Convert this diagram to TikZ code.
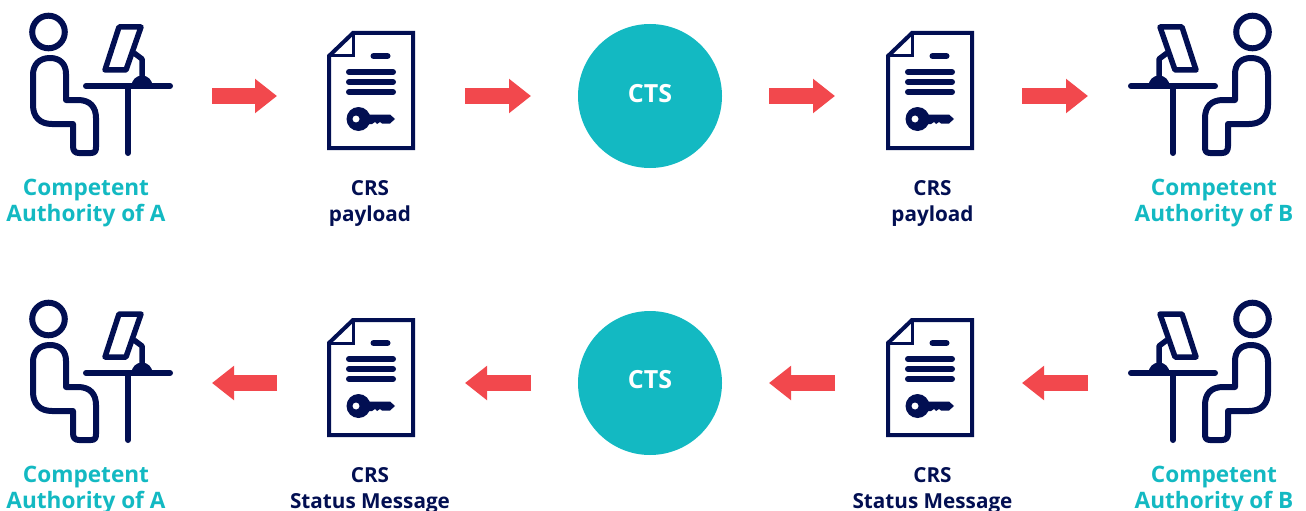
\documentclass[tikz,border=0pt]{standalone}
\usepackage{fontspec}
\setmainfont{Open Sans}
\usetikzlibrary{arrows.meta}
\definecolor{navy}{HTML}{020F52}
\definecolor{teal2}{HTML}{13B9C2}
\definecolor{red2}{HTML}{F2484D}
\tikzset{
  x=1pt,y=-1pt,
  icon/.style={line width=6pt,draw=navy,line cap=round,line join=round},
  iconbox/.style={rectangle,inner sep=0pt,outer sep=0pt,minimum height=40pt},
  ctscircle/.style={circle,fill=teal2,minimum size=144pt,inner sep=0pt,outer sep=47pt},
  ctstext/.style={text=white,inner sep=0pt,font=\fontsize{25}{26}\selectfont\bfseries},
  blockarrow/.style={draw=red2,line width=16pt,-{Triangle[length=22pt,width=33pt,fill=red2]}},
  calabel/.style={align=center,text=teal2,font=\fontsize{22.6}{26}\selectfont\bfseries,inner sep=0pt},
  doclabel/.style={align=center,text=navy,font=\fontsize{20.7}{26}\selectfont\bfseries,inner sep=0pt},
  pics/person/.style={code={
    \draw[icon] (48.5,32) circle[radius=16.3];
    \draw[icon] (50,58) .. controls (39,58) and (33,65) .. (33,75) -- (33,105)
       .. controls (33,117) and (40,124) .. (52,124) -- (73,124) -- (73,146)
       .. controls (73,151) and (75,153) .. (79,153) -- (91,153)
       .. controls (95,153) and (96,151) .. (96,147) -- (96,118)
       .. controls (96,107) and (90,100) .. (78,100) -- (66,100) -- (66,74)
       .. controls (66,64) and (60,58) .. (50,58) -- cycle;
    \draw[icon] (86,86) -- (170,86);
    \draw[icon] (128,86) -- (128,153);
    \fill[navy] (131.5,86) arc[start angle=180,end angle=360,radius=10.5] -- cycle;
    \draw[icon,line width=5.5pt,line cap=butt] (142,80) -- (142,59) -- (134,53);
    \draw[icon,line width=5.5pt] (119,27) -- (141,27) -- (126,70) -- (105,70) -- cycle;
  }},
  pics/paper/.style={code={
    \draw[navy,line width=4pt,line join=miter] (353,33) -- (413,33) -- (413,148) -- (329,148) -- (329,56) -- cycle;
    \draw[navy,line width=3pt] (353,33) -- (353,56) -- (329,56);
    \draw[icon] (373.5,56) -- (387.5,56);
    \draw[icon] (349,72) -- (393,72);
    \draw[icon] (349,82) -- (393,82);
    \draw[icon] (349,92) -- (393,92);
    \fill[navy,even odd rule] (358.5,119) circle[radius=12] (356,119) circle[radius=3.6];
    \fill[navy] (366,114.5) -- (390,114.5) -- (395,119) -- (390,123.5) -- (382,123.5) -- (380,122) -- (377,124) -- (375,122) -- (372,124) -- (366,124) -- cycle;
  }}
}
\begin{document}
\begin{tikzpicture}
\useasboundingbox (0,0) rectangle (1306,511);
% top row
\node[iconbox,minimum width=184pt] (caA) at (120,96) {};
\node[iconbox,minimum width=188pt] (docA) at (371,96) {};
\node[ctscircle] (ctsT) at (650,96) {};
\node[ctstext] (ctsTl) at (650,94) {CTS};
\node[iconbox,minimum width=187pt] (docB) at (928.5,96) {};
\node[iconbox,minimum width=184pt] (caB) at (1180,96) {};
\pic at (0,0) {person};
\pic at (0,0) {paper};
\pic at (559,0) {paper};
\pic[xscale=-1] at (1301,0) {person};
\draw[blockarrow] (caA.east) -- (docA.west);
\draw[blockarrow] (docA.east) -- (ctsT.west);
\draw[blockarrow] (ctsT.east) -- (docB.west);
\draw[blockarrow] (docB.east) -- (caB.west);
\node[calabel] (lA) at (86,203) {Competent\\Authority of A};
\node[doclabel] (lD1) at (370,203) {CRS\\payload};
\node[doclabel] (lD2) at (932.5,203) {CRS\\payload};
\node[calabel] (lB) at (1214,203) {Competent\\Authority of B};
% bottom row
\node[iconbox,minimum width=184pt] (caA2) at (120,383) {};
\node[iconbox,minimum width=188pt] (docA2) at (371,383) {};
\node[ctscircle] (ctsB) at (650,383) {};
\node[ctstext] (ctsBl) at (650,380) {CTS};
\node[iconbox,minimum width=187pt] (docB2) at (928.5,383) {};
\node[iconbox,minimum width=184pt] (caB2) at (1180,383) {};
\pic at (0,287) {person};
\pic at (0,287) {paper};
\pic at (559,287) {paper};
\pic[xscale=-1] at (1301,287) {person};
\draw[blockarrow] (docA2.west) -- (caA2.east);
\draw[blockarrow] (ctsB.west) -- (docA2.east);
\draw[blockarrow] (docB2.west) -- (ctsB.east);
\draw[blockarrow] (caB2.west) -- (docB2.east);
\node[calabel] (lA2) at (86,490) {Competent\\Authority of A};
\node[doclabel] (lD3) at (370,490) {CRS\\Status Message};
\node[doclabel] (lD4) at (932.5,490) {CRS\\Status Message};
\node[calabel] (lB2) at (1214,490) {Competent\\Authority of B};
\end{tikzpicture}
\end{document}
